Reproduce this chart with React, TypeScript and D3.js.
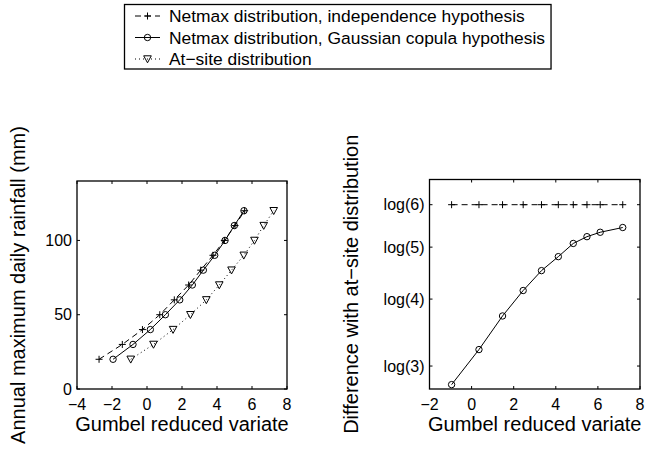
import { useEffect, useRef } from "react";
import * as d3 from "d3";

// rainfall levels (mm) shared by the three curves of the left panel
const rainfallLevels = [20, 30, 40, 50, 60, 70, 80, 90, 100, 110, 120];
// Gumbel reduced variate of each level
const independenceX = [-2.74, -1.41, -0.26, 0.73, 1.56, 2.38, 3.07, 3.77, 4.42, 5.03, 5.58];
const copulaX = [-1.94, -0.8, 0.19, 1.05, 1.87, 2.59, 3.22, 3.87, 4.46, 4.99, 5.54];
const atSiteX = [-0.93, 0.37, 1.49, 2.48, 3.39, 4.13, 4.83, 5.53, 6.14, 6.67, 7.24];

// right panel: difference with at-site distribution
const diffX = [-0.95, 0.35, 1.47, 2.45, 3.32, 4.12, 4.83, 5.48, 6.11, 7.18];
const diffIndependence = [6, 6, 6, 6, 6, 6, 6, 6, 6, 6];
const diffCopula = [2.77, 3.22, 3.72, 4.15, 4.52, 4.8, 5.08, 5.23, 5.33, 5.44];
const diffTicks = [3, 4, 5, 6];

const legendLabels = [
  "Netmax distribution, independence hypothesis",
  "Netmax distribution, Gaussian copula hypothesis",
  "At\u2212site distribution",
];

const FONT = "'Liberation Sans', Arial, Helvetica, sans-serif";
const minus = (v: number) => String(v).replace("-", "\u2212");

type Pt = [number, number];

const App = () => {
  const ref = useRef<SVGSVGElement>(null);

  useEffect(() => {
    const svg = d3.select(ref.current);
    svg.selectAll("*").remove();

    const marker = (g: any, kind: string, x: number, y: number) => {
      if (kind === "plus") {
        g.append("path")
          .attr("d", `M${x - 3.5},${y}H${x + 3.5}M${x},${y - 3.5}V${y + 3.5}`)
          .attr("stroke", "black").attr("stroke-width", 1).attr("fill", "none");
      } else if (kind === "circle") {
        g.append("circle").attr("cx", x).attr("cy", y).attr("r", 3.2)
          .attr("stroke", "black").attr("stroke-width", 1).attr("fill", "none");
      } else {
        g.append("path")
          .attr("d", `M${x - 3.8},${y - 3.2}L${x + 3.8},${y - 3.2}L${x},${y + 3.8}Z`)
          .attr("stroke", "black").attr("stroke-width", 1).attr("fill", "none");
      }
    };

    const dashOf: Record<string, string> = { plus: "6,4", circle: "none", tri: "1,3" };

    const series = (g: any, pts: Pt[], kind: string) => {
      g.append("path")
        .attr("d", d3.line()(pts))
        .attr("fill", "none")
        .attr("stroke", "black")
        .attr("stroke-width", 1)
        .attr("stroke-dasharray", dashOf[kind]);
      pts.forEach((p) => marker(g, kind, p[0], p[1]));
    };

    const frame = (
      x: d3.ScaleLinear<number, number>,
      y: d3.ScaleLinear<number, number>,
      xTicks: number[],
      yTicks: number[],
      yFmt: (v: number) => string
    ) => {
      const [x0, x1] = x.range();
      const [y0, y1] = y.range();
      const g = svg.append("g");
      const TL = 3;
      xTicks.forEach((t) => {
        const px = x(t);
        g.append("path").attr("d", `M${px},${y0}V${y0 - TL}M${px},${y1}V${y1 + TL}`)
          .attr("stroke", "black").attr("stroke-width", 1);
        g.append("text").attr("x", px).attr("y", y0 + 21)
          .attr("text-anchor", "middle").attr("font-size", 16).attr("font-family", FONT)
          .text(minus(t));
      });
      yTicks.forEach((t) => {
        const py = y(t);
        g.append("path").attr("d", `M${x0},${py}H${x0 + TL}M${x1},${py}H${x1 - TL}`)
          .attr("stroke", "black").attr("stroke-width", 1);
        g.append("text").attr("x", x0 - 5).attr("y", py).attr("dy", "0.36em")
          .attr("text-anchor", "end").attr("font-size", 16).attr("font-family", FONT)
          .text(yFmt(t));
      });
      g.append("rect").attr("x", x0).attr("y", y1).attr("width", x1 - x0).attr("height", y0 - y1)
        .attr("fill", "none").attr("stroke", "black").attr("stroke-width", 1.3);
      g.append("text").attr("x", (x0 + x1) / 2).attr("y", y0 + 42)
        .attr("text-anchor", "middle").attr("font-size", 20).attr("font-family", FONT)
        .text("Gumbel reduced variate");
      return g;
    };

    // left panel
    const xL = d3.scaleLinear().domain([-4, 8]).range([77, 287]);
    const yL = d3.scaleLinear().domain([0, 140]).range([389, 181]);
    const gL = frame(xL, yL, [-4, -2, 0, 2, 4, 6, 8], [0, 50, 100], (v) => String(v));
    series(gL, rainfallLevels.map((r, i) => [xL(independenceX[i]), yL(r)] as Pt), "plus");
    series(gL, rainfallLevels.map((r, i) => [xL(copulaX[i]), yL(r)] as Pt), "circle");
    series(gL, rainfallLevels.map((r, i) => [xL(atSiteX[i]), yL(r)] as Pt), "tri");
    svg.append("text")
      .attr("transform", `translate(25, ${(181 + 389) / 2}) rotate(-90)`)
      .attr("text-anchor", "middle").attr("font-size", 20).attr("font-family", FONT)
      .text("Annual maximum daily rainfall (mm)");

    // right panel (log of the difference)
    const xR = d3.scaleLinear().domain([-2, 8]).range([429.5, 640]);
    const yR = d3.scaleLinear().domain([1, 1.9]).range([389, 179.5]);
    const gR = frame(xR, yR, [-2, 0, 2, 4, 6, 8], diffTicks.map((d) => Math.log(d)),
      (v) => `log(${Math.round(Math.exp(v))})`);
    series(gR, diffX.map((xv, i) => [xR(xv), yR(Math.log(diffIndependence[i]))] as Pt), "plus");
    series(gR, diffX.map((xv, i) => [xR(xv), yR(Math.log(diffCopula[i]))] as Pt), "circle");
    svg.append("text")
      .attr("transform", `translate(358, ${(179.5 + 389) / 2}) rotate(-90)`)
      .attr("text-anchor", "middle").attr("font-size", 20).attr("font-family", FONT)
      .text("Difference with at\u2212site distribution");

    // legend
    const lg = svg.append("g");
    const box = lg.append("rect").attr("x", 124.5).attr("y", 4.5).attr("height", 64.5)
      .attr("fill", "white").attr("stroke", "black").attr("stroke-width", 1.3);
    const kinds = ["plus", "circle", "tri"];
    const rowY = [16, 37.5, 59];
    let maxRight = 0;
    legendLabels.forEach((label, i) => {
      const yy = rowY[i];
      lg.append("path").attr("d", `M135,${yy}H160`).attr("stroke", "black")
        .attr("stroke-width", 1).attr("stroke-dasharray", dashOf[kinds[i]]);
      marker(lg, kinds[i], 147.5, yy);
      const t = lg.append("text").attr("x", 169).attr("y", yy).attr("dy", "0.36em")
        .attr("font-size", 17.4).attr("font-family", FONT).text(label);
      const node = t.node() as SVGTextElement;
      maxRight = Math.max(maxRight, 169 + node.getComputedTextLength());
    });
    box.attr("width", maxRight + 6 - 124.5);
  }, []);

  return (
    <svg
      ref={ref}
      width={645}
      height={454}
      style={{ position: "absolute", left: 0, top: 0, background: "white" }}
    />
  );
};

export default App;
